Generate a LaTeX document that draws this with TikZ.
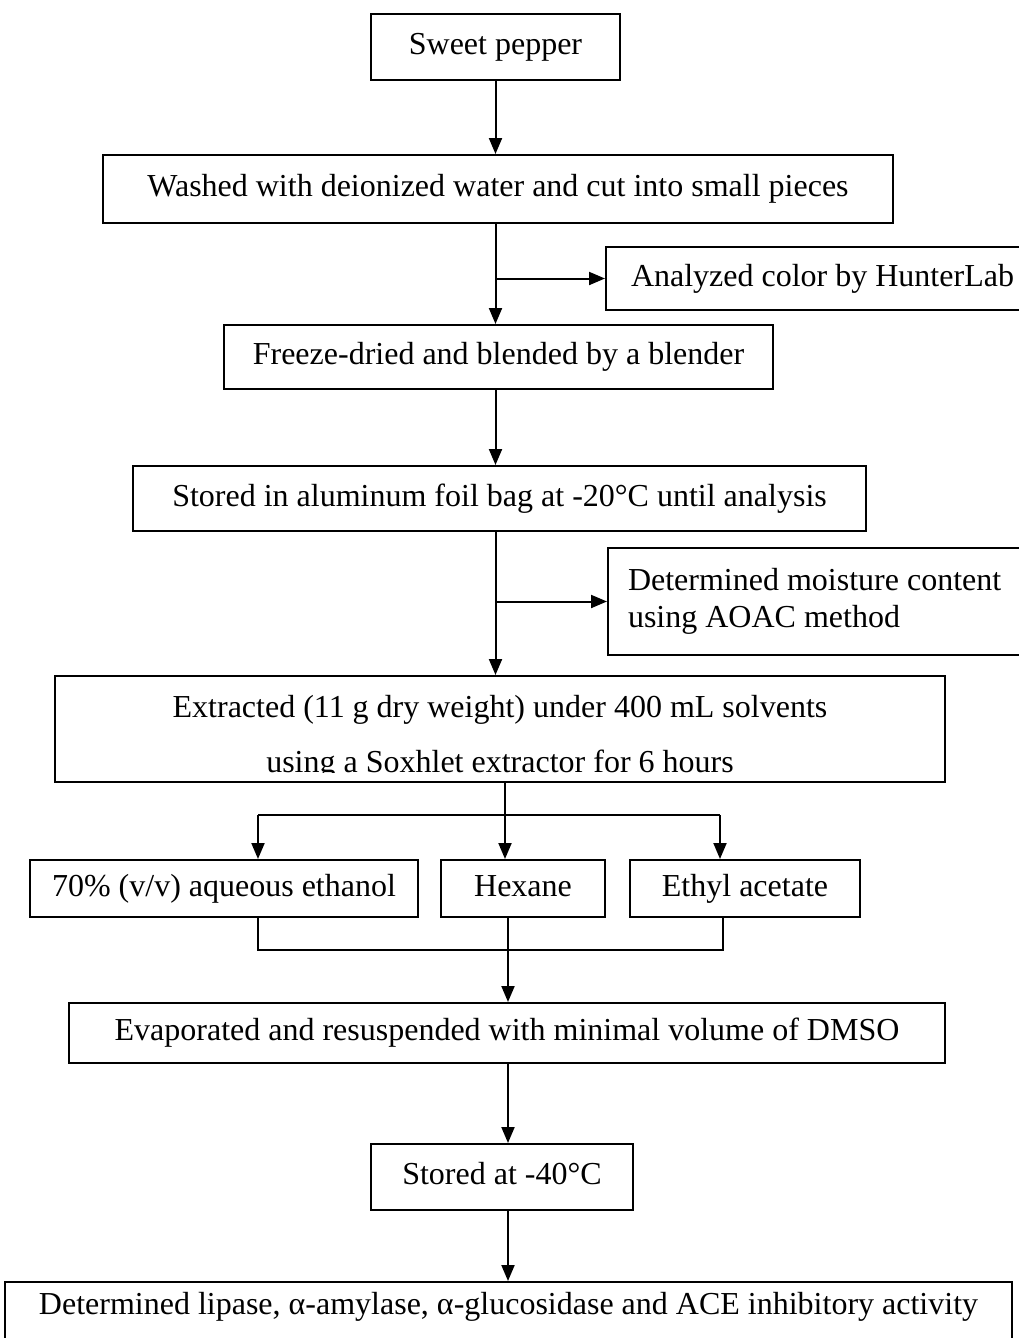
\documentclass[tikz,border=0pt]{standalone}
\usepackage{fontspec}
\setmainfont{Liberation Serif}
\usetikzlibrary{arrows.meta}
\begin{document}
\begin{tikzpicture}[x=1pt,y=-1pt,
  box/.style={draw, line width=2pt, inner sep=0pt, font=\fontsize{32}{37}\selectfont},
  sbox/.style={box, text height=22pt, text depth=7pt},
  txt/.style={inner sep=0pt, font=\fontsize{32}{37}\selectfont, anchor=base},
  conn/.style={line width=2pt},
  arr/.style={conn, -{Triangle[length=16pt,width=13pt]}}]
\useasboundingbox (0,0) rectangle (1019,1338);

\node[sbox, minimum width=249, minimum height=66] (sp) at (495.5,47) {Sweet pepper};
\node[sbox, minimum width=790, minimum height=68] (wash) at (498,189) {Washed with deionized water and cut into small pieces};
\node[sbox, anchor=west, minimum height=63, inner xsep=25] (ana) at (605,278.5) {\makebox[400pt][l]{Analyzed color by HunterLab}};
\node[sbox, minimum width=549, minimum height=64] (frz) at (498.5,357) {Freeze-dried and blended by a blender};
\node[sbox, minimum width=733, minimum height=65] (sto) at (499.5,498.5) {Stored in aluminum foil bag at -20°C until analysis};
\node[box, anchor=west, minimum height=107, inner xsep=20, align=left] (moi) at (607,601.5) {\makebox[420pt][l]{Determined moisture content}\\\makebox[420pt][l]{using AOAC method}};
\node[box, minimum width=890, minimum height=106] (ext) at (500,729) {};
\begin{scope}
  \clip (ext.north west) rectangle ([yshift=11pt]ext.south east);
  \node[txt] (ext1) at (500,717) {Extracted (11 g dry weight) under 400 mL solvents};
  \node[txt] (ext2) at (500,772) {using a Soxhlet extractor for 6 hours};
\end{scope}
\node[sbox, minimum width=388, minimum height=57] (eth) at (224,888.5) {70\% (v/v) aqueous ethanol};
\node[sbox, minimum width=164, minimum height=57] (hex) at (523,888.5) {Hexane};
\node[sbox, minimum width=230, minimum height=57] (eac) at (745,888.5) {Ethyl acetate};
\node[sbox, minimum width=876, minimum height=60] (evap) at (507,1033) {Evaporated and resuspended with minimal volume of DMSO};
\node[sbox, minimum width=262, minimum height=66] (s40) at (502,1177) {Stored at -40°C};
\node[box, anchor=north, minimum width=1007, text height=22pt, text depth=40pt, inner ysep=10pt] (fin) at (508.5,1281) {Determined lipase, α-amylase, α-glucosidase and ACE inhibitory activity};

% connectors
\draw[arr] (sp.south) -- (sp.south |- wash.north);
\draw[arr] (sp.south |- wash.south) -- (sp.south |- frz.north);
\draw[arr] (sp.south |- ana.west) -- (ana.west);
\draw[arr] (sp.south |- frz.south) -- (sp.south |- sto.north);
\draw[arr] (sp.south |- sto.south) -- (sp.south |- ext.north);
\draw[arr] (sp.south |- moi.west) -- (moi.west);

\coordinate (sp2) at (505,815);
\coordinate (bl) at (258,815);
\coordinate (br) at (720,815);
\draw[conn] (ext.south -| sp2) -- (sp2);
\draw[conn] (bl) -- (br);
\draw[arr] (bl) -- (bl |- eth.north);
\draw[arr] (sp2) -- (sp2 |- hex.north);
\draw[arr] (br) -- (br |- eac.north);

\coordinate (ml) at (258,950);
\coordinate (mr) at (723,950);
\coordinate (sp3) at (508,950);
\draw[conn] (ml |- eth.south) -- (ml) -- (mr) -- (mr |- eac.south);
\draw[arr] (sp3 |- hex.south) -- (sp3 |- evap.north);
\draw[arr] (sp3 |- evap.south) -- (sp3 |- s40.north);
\draw[arr] (sp3 |- s40.south) -- (sp3 |- fin.north);
\end{tikzpicture}
\end{document}
